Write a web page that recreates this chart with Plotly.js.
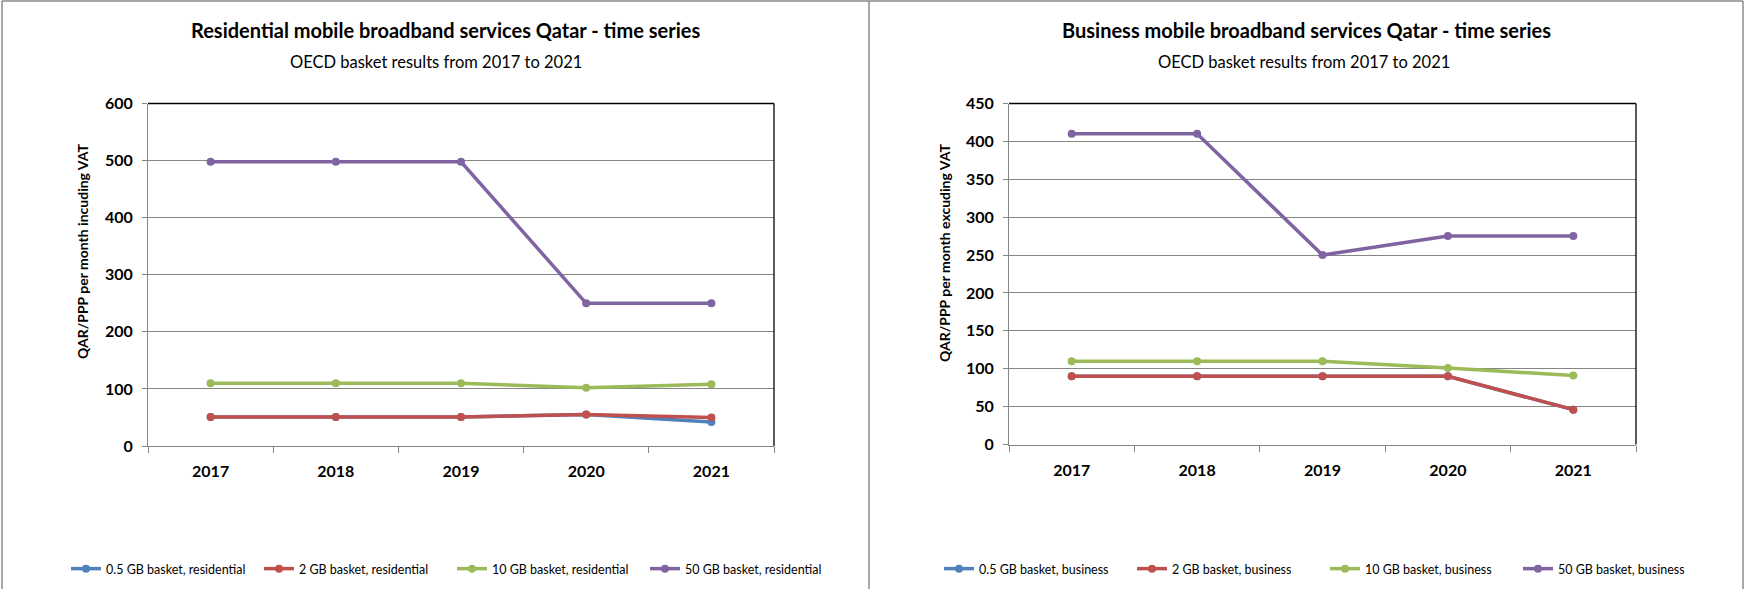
<!DOCTYPE html>
<html>
<head>
<meta charset="utf-8">
<script src="https://cdn.plot.ly/plotly-3.0.1.min.js"></script>
<style>
  html, body { margin: 0; padding: 0; background: #fff; }
  #chart { width: 1745px; height: 589px; }
</style>
</head>
<body>
<div id="chart"></div>
<script>
// ---------- data ----------
const years = ["2017", "2018", "2019", "2020", "2021"];

const resNames = ["0.5 GB basket, residential", "2 GB basket, residential", "10 GB basket, residential", "50 GB basket, residential"];
const res05 = [51, 51, 51, 55, 42];
const res2  = [51, 51, 51, 55, 50];
const res10 = [110, 110, 110, 102, 108];
const res50 = [498, 498, 498, 250, 250];

const busNames = ["0.5 GB basket, business", "2 GB basket, business", "10 GB basket, business", "50 GB basket, business"];
const bus05 = [90, 90, 90, 90, 46];
const bus2  = [90, 90, 90, 90, 46];
const bus10 = [110, 110, 110, 101, 91];
const bus50 = [410, 410, 250, 275, 275];

const leftTitle = "Residential mobile broadband services Qatar - time series";
const rightTitle = "Business mobile broadband services Qatar - time series";
const subTitle = "OECD basket results from 2017 to 2021";
const leftYTitle = "QAR/PPP per month incuding VAT";
const rightYTitle = "QAR/PPP per month excuding VAT";

// ---------- style ----------
const colors = ["#4F81BD", "#C0504D", "#9BBB59", "#8064A2"];
const FONT = "Lato, 'Liberation Sans', Arial, sans-serif";
const W = 1745, H = 589;
const px = v => v / W;
const py = v => 1 - v / H;
const gridCol = "#868686";

function mk(name, y, i, xa, ya, lg) {
  return {
    type: "scatter", mode: "lines+markers", name: name,
    x: years, y: y, xaxis: xa, yaxis: ya, legend: lg,
    line: { color: colors[i], width: 3.5 },
    marker: { color: colors[i], size: 8 },
    hoverinfo: "x+y+name"
  };
}

const traces = [
  mk(resNames[0], res05, 0, "x", "y", "legend"),
  mk(resNames[1], res2, 1, "x", "y", "legend"),
  mk(resNames[2], res10, 2, "x", "y", "legend"),
  mk(resNames[3], res50, 3, "x", "y", "legend"),
  mk(busNames[0], bus05, 0, "x2", "y2", "legend2"),
  mk(busNames[1], bus2, 1, "x2", "y2", "legend2"),
  mk(busNames[2], bus10, 2, "x2", "y2", "legend2"),
  mk(busNames[3], bus50, 3, "x2", "y2", "legend2")
];

function xax(domain, anchor) {
  return {
    domain: domain, anchor: anchor, type: "category", range: [-0.5, years.length - 0.5],
    tickson: "boundaries", ticks: "outside", ticklen: 6, tickwidth: 1, tickcolor: gridCol,
    showline: true, linecolor: gridCol, linewidth: 1, showgrid: false, zeroline: false,
    tickfont: { family: FONT, size: 16, color: "#000", weight: "bold" },
    ticklabelstandoff: 11, fixedrange: true
  };
}
function yax(domain, anchor, range, dtick) {
  return {
    domain: domain, anchor: anchor, range: range, dtick: dtick, tick0: 0,
    ticks: "outside", ticklen: 5, tickwidth: 1, tickcolor: gridCol,
    showline: true, linecolor: gridCol, linewidth: 1,
    showgrid: true, gridcolor: gridCol, gridwidth: 1, zeroline: false,
    tickfont: { family: FONT, size: 16, color: "#000", weight: "bold" },
    ticklabelstandoff: 6, fixedrange: true
  };
}

const ann = (text, x, y, size, bold, angle) => ({
  text: text, xref: "paper", yref: "paper", x: x, y: y,
  xanchor: "center", yanchor: "middle", showarrow: false, textangle: angle || 0,
  font: { family: FONT, size: size, color: "#000", weight: bold ? "bold" : "normal" }
});

const lineShape = (x0, y0, x1, y1, color, w, xref, yref) => ({
  type: "line", xref: xref || "paper", yref: yref || "paper",
  x0: x0, y0: y0, x1: x1, y1: y1, line: { color: color, width: w }
});

const legendBase = {
  orientation: "h", y: py(569), yanchor: "middle", xanchor: "left",
  entrywidth: 148, entrywidthmode: "pixels",
  font: { family: FONT, size: 12.5, color: "#000" }, bgcolor: "rgba(0,0,0,0)", traceorder: "normal"
};

const layout = {
  width: W, height: H,
  margin: { l: 0, r: 0, t: 0, b: 0 },
  paper_bgcolor: "#fff", plot_bgcolor: "#fff",
  font: { family: FONT, color: "#000" },
  showlegend: true,
  xaxis: xax([px(148), px(774)], "y"),
  yaxis: yax([py(446), py(103.5)], "x", [0, 600], 100),
  xaxis2: xax([px(1009), px(1636)], "y2"),
  yaxis2: yax([py(444.5), py(103.5)], "x2", [0, 450], 50),
  legend: Object.assign({}, legendBase, { x: px(66) }),
  legend2: Object.assign({}, legendBase, { x: px(939) }),
  annotations: [
    ann(leftTitle, px(445), py(30), 20, true),
    ann(subTitle, px(436), py(62), 16.5, false),
    ann(rightTitle, px(1306), py(30), 20, true),
    ann(subTitle, px(1304), py(62), 16.5, false),
    ann(leftYTitle, px(82), py(251), 14, true, -90),
    ann(rightYTitle, px(945), py(253), 14, true, -90)
  ],
  shapes: [
    // outer frame and divider
    lineShape(px(2), py(1), px(1743), py(1), "#8a8a8a", 1.5),
    lineShape(px(2), py(1), px(2), 0, "#8a8a8a", 1.5),
    lineShape(px(1743), py(1), px(1743), 0, "#8a8a8a", 1.5),
    lineShape(px(869), py(1), px(869), 0, "#8a8a8a", 1.5),
    // black top/right borders of plot areas
    lineShape(0, 1, 1, 1, "#000", 1.3, "x domain", "y domain"),
    lineShape(1, 0, 1, 1, "#000", 1.3, "x domain", "y domain"),
    lineShape(0, 1, 1, 1, "#000", 1.3, "x2 domain", "y2 domain"),
    lineShape(1, 0, 1, 1, "#000", 1.3, "x2 domain", "y2 domain")
  ]
};

Plotly.newPlot("chart", traces, layout, { staticPlot: true, displayModeBar: false });
</script>
</body>
</html>
